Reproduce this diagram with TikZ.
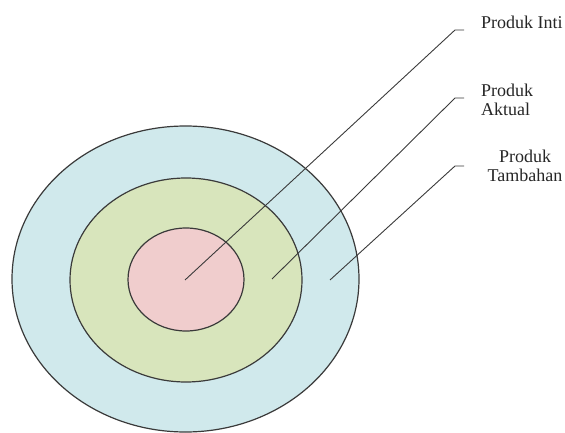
\documentclass[tikz,border=0pt]{standalone}
\usepackage{fontspec}
\setmainfont{Liberation Serif}
\usetikzlibrary{shapes.geometric}
\definecolor{ringouter}{HTML}{D0E9EC}
\definecolor{ringmid}{HTML}{D8E5BC}
\definecolor{ringinner}{HTML}{F0CDCD}
\definecolor{edgegray}{HTML}{3A3A3A}
\begin{document}
\begin{tikzpicture}[x=1pt,y=-1pt,
  ring/.style={ellipse,draw=edgegray,line width=1.2pt,inner sep=0pt},
  leader/.style={draw=edgegray,line width=0.9pt},
  lbl/.style={font=\fontsize{18}{19.5}\selectfont,text=black!85,inner sep=0pt,align=left}]
\useasboundingbox (0,0) rectangle (565,433);
\node[ring,fill=ringouter,minimum width=347pt,minimum height=306pt] (outer) at (185.5,279) {};
\node[ring,fill=ringmid,minimum width=232pt,minimum height=204pt] (mid) at (186,280) {};
\node[ring,fill=ringinner,minimum width=116pt,minimum height=103pt] (inner) at (186,279.5) {};
% leader points
\coordinate (s1) at (185,280);
\coordinate (s2) at (272,279);
\coordinate (s3) at (330,280);
\coordinate (b1) at (455,30);
\coordinate (b2) at (455,98);
\coordinate (b3) at (455,166);
\coordinate (e1) at (464,30);
\coordinate (e2) at (464,98);
\coordinate (e3) at (464,166);
\draw[leader] (s1) -- (b1) -- (e1);
\draw[leader] (s2) -- (b2) -- (e2);
\draw[leader] (s3) -- (b3) -- (e3);
% labels
\node[lbl,anchor=west] (l1) at (481,22) {Produk Inti};
\node[lbl,anchor=west] (l2) at (481,100) {Produk\\Aktual};
\node[lbl,align=center] (l3) at (525,166) {Produk\\Tambahan};
\end{tikzpicture}
\end{document}
